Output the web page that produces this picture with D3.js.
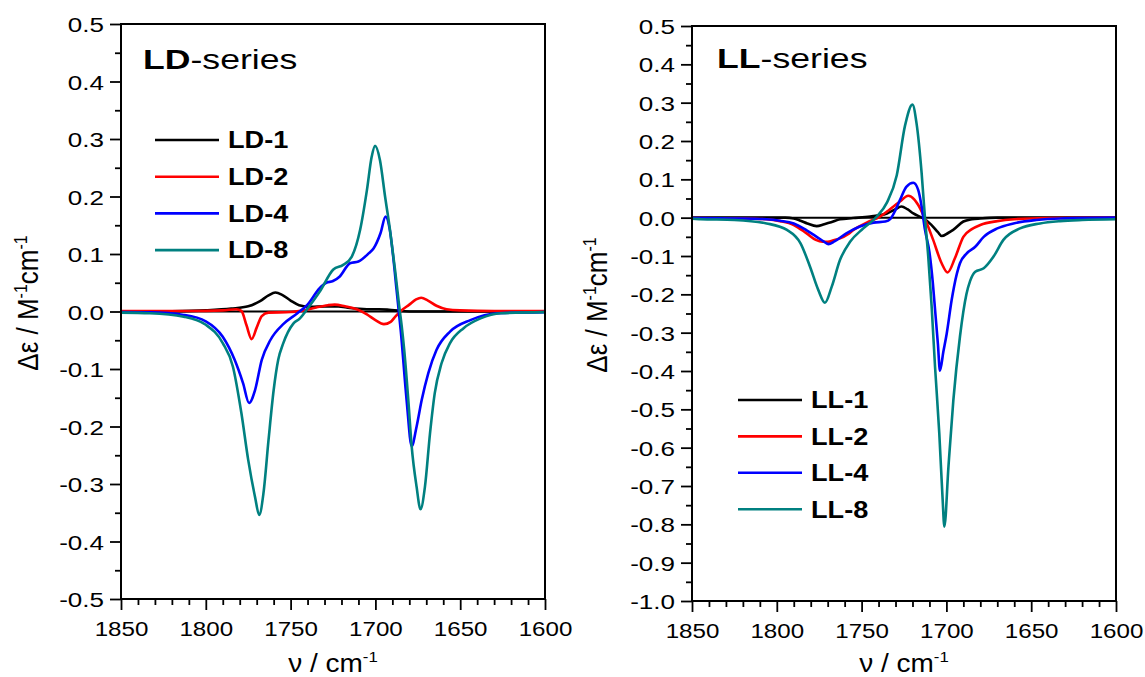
<!DOCTYPE html>
<html><head><meta charset="utf-8">
<script src="https://cdn.jsdelivr.net/npm/d3@7"></script>
<style>body{margin:0;background:#fff} svg{display:block} text{font-family:"Liberation Sans",Arial,sans-serif;fill:#000}</style>
</head><body><svg id="c" width="1145" height="677"></svg>
<script>
// ---------- data ----------
const xTicks = [1850, 1800, 1750, 1700, 1650, 1600];
const ldYTicks = [-0.5, -0.4, -0.3, -0.2, -0.1, 0.0, 0.1, 0.2, 0.3, 0.4, 0.5];
const llYTicks = [-1.0, -0.9, -0.8, -0.7, -0.6, -0.5, -0.4, -0.3, -0.2, -0.1, 0.0, 0.1, 0.2, 0.3, 0.4, 0.5];
const ldNames = ["LD-1", "LD-2", "LD-4", "LD-8"];
const llNames = ["LL-1", "LL-2", "LL-4", "LL-8"];
const seriesColors = ["#000000", "#ff0000", "#0000ff", "#008080"];

// [wavenumber, delta epsilon]
const ld1 = [[1850,0],[1820,0.0005],[1800,0.002],[1785,0.005],[1775,0.009],[1768,0.018],[1763,0.028],[1759,0.033],[1755,0.029],[1750,0.019],[1745,0.011],[1738,0.008],[1730,0.009],[1722,0.009],[1715,0.006],[1705,0.004],[1698,0.004],[1692,0.003],[1685,0.001],[1675,0],[1600,0]];
const ld2 = [[1850,0.001],[1810,0.001],[1790,0.002],[1782,0.004],[1779,0.001],[1776,-0.024],[1773,-0.048],[1770,-0.028],[1767,-0.008],[1763,-0.002],[1750,-0.001],[1742,0.002],[1735,0.007],[1728,0.011],[1724,0.012],[1718,0.009],[1711,0.004],[1705,-0.005],[1700,-0.015],[1695,-0.022],[1691,-0.018],[1688,-0.008],[1685,0.001],[1680,0.012],[1676,0.021],[1673,0.024],[1669,0.019],[1664,0.01],[1658,0.004],[1650,0.002],[1630,0.001],[1600,0.001]];
const ld4 = [[1850,-0.001],[1833,-0.0015],[1813,-0.006],[1800,-0.017],[1790,-0.044],[1783,-0.084],[1778,-0.125],[1774.5,-0.159],[1771,-0.137],[1767,-0.084],[1762,-0.05],[1754,-0.021],[1746,-0.003],[1740,0.012],[1733,0.04],[1729,0.05],[1725,0.053],[1721,0.061],[1715,0.084],[1710,0.087],[1704,0.101],[1701,0.11],[1697,0.136],[1694,0.165],[1691.5,0.142],[1689.5,0.095],[1687.5,0.037],[1685,-0.035],[1681.6,-0.154],[1678.6,-0.234],[1675.7,-0.2],[1672.7,-0.154],[1668.8,-0.107],[1664,-0.067],[1656,-0.035],[1644,-0.015],[1628,-0.003],[1600,-0.001]];
const ld8 = [[1850,-0.002],[1833,-0.003],[1813,-0.009],[1800,-0.023],[1790,-0.055],[1784,-0.096],[1779,-0.177],[1775,-0.258],[1771,-0.322],[1768.5,-0.354],[1766,-0.316],[1763,-0.223],[1760,-0.137],[1757.3,-0.084],[1754.3,-0.055],[1748.4,-0.021],[1744.5,-0.012],[1740.5,0.003],[1732.7,0.035],[1724.8,0.073],[1719,0.081],[1714,0.095],[1709,0.142],[1705,0.211],[1702.2,0.269],[1700.2,0.288],[1697.3,0.263],[1694.3,0.2],[1691.4,0.142],[1688.4,0.072],[1686,0.01],[1684.5,-0.025],[1683,-0.067],[1680.6,-0.154],[1678.6,-0.235],[1675.7,-0.305],[1673.4,-0.344],[1670.8,-0.305],[1667.8,-0.212],[1665,-0.142],[1661,-0.09],[1656,-0.055],[1648,-0.029],[1638,-0.012],[1626,-0.003],[1600,-0.001]];

const ll1 = [[1850,0],[1795,0],[1790,-0.002],[1786,-0.008],[1782,-0.015],[1776.5,-0.022],[1772,-0.017],[1768,-0.012],[1762.7,-0.004],[1755,-0.001],[1745,0.003],[1740,0.006],[1735,0.011],[1730,0.022],[1726.5,0.029],[1723,0.022],[1719.5,0.011],[1713.6,-0.002],[1709,-0.018],[1705,-0.038],[1702.8,-0.048],[1699,-0.04],[1696,-0.032],[1690,-0.01],[1685,-0.004],[1680,-0.002],[1670,0],[1600,0]];
const ll2 = [[1850,-0.001],[1820,-0.002],[1806,-0.004],[1798,-0.009],[1790,-0.019],[1782.4,-0.041],[1777,-0.058],[1773,-0.063],[1770,-0.063],[1766,-0.058],[1762.7,-0.054],[1758,-0.043],[1754.8,-0.032],[1747,-0.013],[1739,0.003],[1735,0.016],[1731,0.03],[1727.4,0.042],[1722.5,0.057],[1719,0.048],[1716.6,0.033],[1712.7,-0.002],[1707.8,-0.058],[1702.8,-0.119],[1699.3,-0.143],[1695,-0.106],[1690,-0.05],[1685,-0.03],[1680,-0.019],[1670,-0.009],[1660,-0.004],[1641,-0.001],[1600,0]];
const ll4 = [[1850,-0.001],[1820,-0.002],[1806,-0.004],[1798,-0.008],[1790,-0.015],[1782.4,-0.033],[1776.5,-0.05],[1772,-0.063],[1769.6,-0.069],[1766,-0.062],[1759,-0.041],[1751,-0.023],[1743,-0.013],[1736,-0.01],[1733,-0.003],[1730,0.02],[1727.4,0.046],[1723.5,0.081],[1719.5,0.091],[1716.6,0.072],[1714.6,0.029],[1712.7,-0.03],[1710,-0.09],[1708,-0.17],[1706.5,-0.25],[1705,-0.33],[1703.8,-0.399],[1701.8,-0.35],[1699.8,-0.302],[1696.9,-0.215],[1695.5,-0.18],[1692,-0.119],[1688,-0.093],[1683,-0.076],[1678,-0.05],[1670,-0.028],[1660.5,-0.015],[1647,-0.006],[1633,-0.002],[1600,0]];
const ll8 = [[1850,-0.003],[1845,-0.004],[1825,-0.006],[1806,-0.015],[1794,-0.032],[1786,-0.067],[1780.4,-0.128],[1775.5,-0.189],[1771.6,-0.222],[1767.6,-0.18],[1762.7,-0.11],[1756.8,-0.063],[1749,-0.028],[1741,0.003],[1735,0.04],[1729.3,0.11],[1724.4,0.24],[1720,0.295],[1717.6,0.246],[1714.6,0.116],[1712.7,0.003],[1710.7,-0.102],[1708.7,-0.232],[1706.7,-0.389],[1704.2,-0.562],[1702.2,-0.737],[1701.2,-0.806],[1698.8,-0.65],[1695.9,-0.476],[1692,-0.31],[1688.2,-0.2],[1686,-0.165],[1683,-0.141],[1678,-0.132],[1672.3,-0.102],[1666.4,-0.058],[1656.6,-0.028],[1644.8,-0.015],[1633,-0.009],[1620,-0.006],[1600,-0.004]];

// ---------- drawing ----------
const svg = d3.select("#c");
const FONT = '"Liberation Sans", Arial, sans-serif';

function stretchedText(g, x, y, sx, size, weight, anchor) {
  return g.append("text")
    .attr("transform", `translate(${x},${y}) scale(${sx},1)`)
    .attr("font-size", size).attr("font-weight", weight || "normal")
    .attr("text-anchor", anchor || "start");
}

function panel(cfg) {
  const g = svg.append("g");
  const x = d3.scaleLinear().domain([1850, 1600]).range([cfg.x0, cfg.x1]);
  const y = d3.scaleLinear().domain(cfg.yDomain).range([cfg.yBottom, cfg.yTop]);

  const yMinor = [];
  for (let i = 0; i < cfg.yTicks.length - 1; i++) yMinor.push((cfg.yTicks[i] + cfg.yTicks[i + 1]) / 2);
  const xMinor = [];
  for (let i = 0; i < xTicks.length - 1; i++) for (let k = 1; k < 5; k++) xMinor.push(xTicks[i] - k * 10);

  const axStyle = sel => { sel.select(".domain").remove(); sel.selectAll("line").attr("stroke", "#000").attr("stroke-width", 1.8); };

  g.append("g").attr("transform", `translate(${cfg.x0},0)`)
    .call(d3.axisLeft(y).tickValues(yMinor).tickSize(6).tickFormat("")).call(axStyle);
  const ya = g.append("g").attr("transform", `translate(${cfg.x0},0)`)
    .call(d3.axisLeft(y).tickValues(cfg.yTicks).tickSize(11).tickFormat(d => d.toFixed(1))).call(axStyle);
  ya.selectAll("text").attr("font-size", 21).attr("font-family", FONT).attr("fill", "#000")
    .attr("x", 0).attr("dy", "0.36em")
    .attr("transform", "translate(-17,0) scale(1.24,1)");

  g.append("g").attr("transform", `translate(0,${cfg.yBottom})`)
    .call(d3.axisBottom(x).tickValues(xMinor).tickSize(6).tickFormat("")).call(axStyle);
  const xa = g.append("g").attr("transform", `translate(0,${cfg.yBottom})`)
    .call(d3.axisBottom(x).tickValues(xTicks).tickSize(11).tickFormat(d3.format("d"))).call(axStyle);
  xa.selectAll("text").attr("font-size", 21).attr("font-family", FONT).attr("fill", "#000")
    .attr("y", 0).attr("dy", "0")
    .attr("transform", "translate(0,37) scale(1.15,1)");

  g.append("line").attr("x1", cfg.x0).attr("x2", cfg.x1).attr("y1", y(0)).attr("y2", y(0))
    .attr("stroke", "#000").attr("stroke-width", 2);

  const cid = "clip" + cfg.id;
  g.append("clipPath").attr("id", cid).append("rect")
    .attr("x", cfg.x0).attr("y", cfg.yTop).attr("width", cfg.x1 - cfg.x0).attr("height", cfg.yBottom - cfg.yTop);

  const line = d3.line().x(d => x(d[0])).y(d => y(d[1])).curve(d3.curveMonotoneX);
  const cg = g.append("g").attr("clip-path", `url(#${cid})`);
  cfg.series.forEach((s, i) => {
    const data = s.slice().sort((a, b) => b[0] - a[0]);
    cg.append("path").datum(data).attr("d", line)
      .attr("fill", "none").attr("stroke", seriesColors[i]).attr("stroke-width", 2.6)
      .attr("stroke-linejoin", "round");
  });

  g.append("rect").attr("x", cfg.x0).attr("y", cfg.yTop).attr("width", cfg.x1 - cfg.x0).attr("height", cfg.yBottom - cfg.yTop)
    .attr("fill", "none").attr("stroke", "#000").attr("stroke-width", 2);

  const t = stretchedText(g, cfg.titleX, cfg.titleY, 1.32, 27);
  t.append("tspan").attr("font-weight", "bold").text(cfg.titleBold);
  t.append("tspan").text("-series");

  cfg.names.forEach((n, i) => {
    const yy = cfg.legY + i * cfg.legStep;
    g.append("line").attr("x1", cfg.legX).attr("x2", cfg.legX + 64).attr("y1", yy).attr("y2", yy)
      .attr("stroke", seriesColors[i]).attr("stroke-width", 2.6);
    stretchedText(g, cfg.legX + 73, yy + 8.3, 1.18, 23, "bold").text(n);
  });

  const xt = stretchedText(g, (cfg.x0 + cfg.x1) / 2, 672, 1.12, 25, "normal", "middle");
  xt.append("tspan").text("\u03bd / cm");
  xt.append("tspan").attr("font-size", 15).attr("dy", -10).text("-1");

  const yt = g.append("text")
    .attr("transform", `translate(${cfg.yTitleX},${cfg.yTitleY}) rotate(-90) scale(1,1.15)`)
    .attr("font-size", 26).attr("text-anchor", "middle");
  yt.append("tspan").text("\u0394\u03b5 / M");
  yt.append("tspan").attr("font-size", 16).attr("dy", -10).text("-1");
  yt.append("tspan").attr("dy", 10).text("cm");
  yt.append("tspan").attr("font-size", 16).attr("dy", -10).text("-1");
}

panel({ id: "ld", x0: 121, x1: 545, yTop: 24, yBottom: 599, yDomain: [-0.5, 0.5], yTicks: ldYTicks,
  series: [ld1, ld2, ld4, ld8], names: ldNames, titleBold: "LD", titleX: 143, titleY: 69,
  legX: 155, legY: 140, legStep: 36.7, yTitleX: 38, yTitleY: 303 });
panel({ id: "ll", x0: 692, x1: 1116, yTop: 26, yBottom: 601, yDomain: [-1.0, 0.5], yTicks: llYTicks,
  series: [ll1, ll2, ll4, ll8], names: llNames, titleBold: "LL", titleX: 717, titleY: 68,
  legX: 738, legY: 400, legStep: 36.4, yTitleX: 607, yTitleY: 305 });
</script></body></html>
